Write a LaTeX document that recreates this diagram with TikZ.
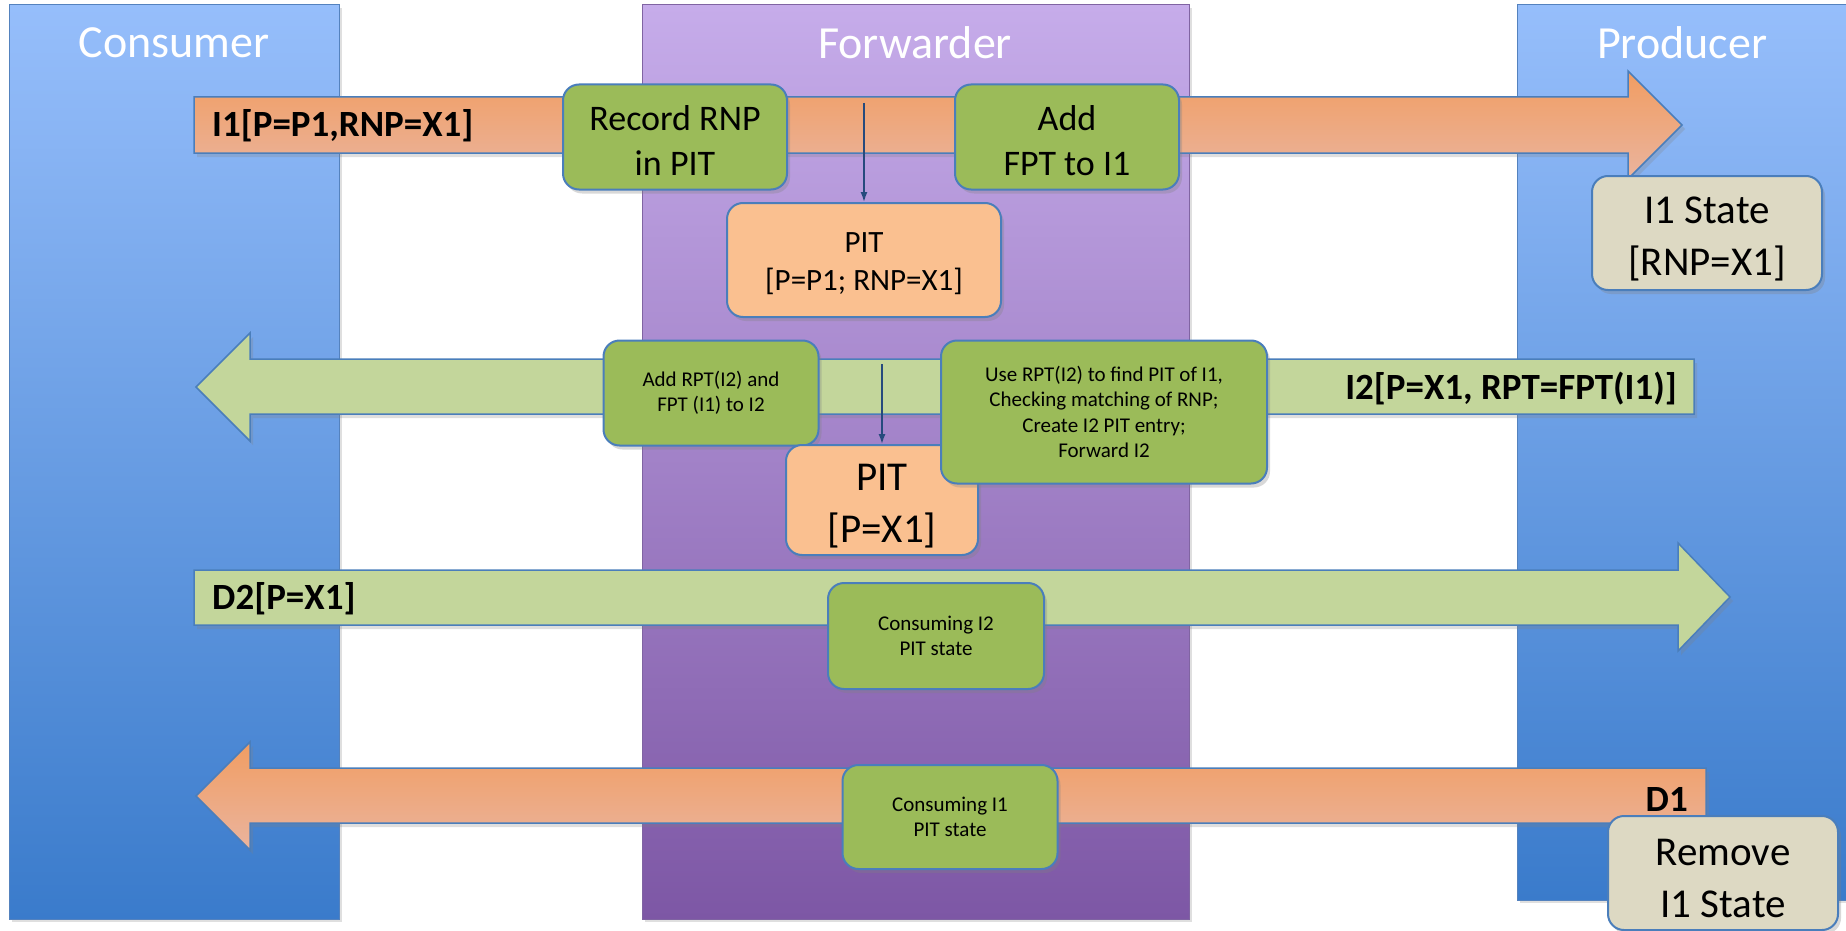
\documentclass[tikz,border=0pt]{standalone}
\usepackage{fontspec}
\setmainfont{Carlito}
\usetikzlibrary{shadows,arrows.meta}
\definecolor{laneblueA}{RGB}{150,190,251}
\definecolor{laneblueB}{RGB}{58,123,203}
\definecolor{lanepurpA}{RGB}{198,172,234}
\definecolor{lanepurpB}{RGB}{125,87,165}
\definecolor{lanebluedraw}{RGB}{84,130,190}
\definecolor{lanepurpdraw}{RGB}{128,100,162}
\definecolor{msgorangeA}{RGB}{241,157,98}
\definecolor{msgorangeB}{RGB}{234,180,158}
\definecolor{msggreen}{RGB}{195,214,155}
\definecolor{boxgreen}{RGB}{155,187,89}
\definecolor{boxorange}{RGB}{250,192,144}
\definecolor{boxbeige}{RGB}{221,217,195}
\definecolor{boxline}{RGB}{74,126,187}
\definecolor{ptrblue}{RGB}{38,74,125}
\begin{document}
\begin{tikzpicture}[x=1pt, y=-1pt,
                    lane/.style={line width=1pt,
                        drop shadow={shadow xshift=3pt, shadow yshift=-3pt, opacity=0.25}},
                    msg/.style={draw=boxline, line width=1.5pt,
                        drop shadow={shadow xshift=3pt, shadow yshift=-4pt, opacity=0.25}},
                    box/.style={draw=boxline, line width=2pt,
                        rounded corners=16pt, align=center, inner sep=0pt,
                        drop shadow={shadow xshift=3pt, shadow yshift=-4pt, opacity=0.3}},
                    greenbox/.style={box, fill=boxgreen},
                    pitbox/.style={box, fill=boxorange},
                    statebox/.style={box, fill=boxbeige},
                    lanetitle/.style={text=white, font=\fontsize{46}{55}\selectfont},
                    msglabel/.style={inner sep=0pt, font=\bfseries\fontsize{37}{44}\selectfont},
                    big/.style={font=\fontsize{36}{45}\selectfont, execute at begin node={\rule{0pt}{77pt}}},
                    mid/.style={font=\fontsize{31}{38}\selectfont, execute at begin node={\rule{0pt}{65pt}}},
                    huge/.style={font=\fontsize{41}{52}\selectfont, execute at begin node={\rule{0pt}{90pt}}},
                    small/.style={font=\fontsize{21}{25.5}\selectfont},
                    ptr/.style={draw=ptrblue, line width=1.5pt, -{Latex[length=10pt,width=7pt]}}]
                        \useasboundingbox (0,0) rectangle (1846,931);
                        \fill [white] (0,0) rectangle (1846,931);
                        \draw [lane, draw=lanebluedraw, top color=laneblueA, bottom color=laneblueB] (9,5) rectangle (339,919);
                        \draw [lane, draw=lanepurpdraw, top color=lanepurpA, bottom color=lanepurpB] (642,5) rectangle (1189,919);
                        \draw [lane, draw=lanebluedraw, top color=laneblueA, bottom color=laneblueB] (1517,5) rectangle (1846,900);
                        \node [lanetitle] (consumer) at (174,43) {Consumer};
                        \node [lanetitle] (forwarder) at (915,43) {Forwarder};
                        \node [lanetitle] (producer) at (1682,43) {Producer};
                        \draw [msg, top color=msgorangeA, bottom color=msgorangeB] (194,97) -- (1628,97) -- (1628,71) -- (1682,125) -- (1628,179) -- (1628,153) -- (194,153) -- cycle;
                        \draw [msg, fill=msggreen] (1694,359) -- (250,359) -- (250,333) -- (196,387) -- (250,441) -- (250,414) -- (1694,414) -- cycle;
                        \draw [msg, fill=msggreen] (194,570) -- (1678,570) -- (1678,543) -- (1730,597) -- (1678,651) -- (1678,625) -- (194,625) -- cycle;
                        \draw [msg, top color=msgorangeA, bottom color=msgorangeB] (1706,768) -- (250,768) -- (250,742) -- (196,796) -- (250,850) -- (250,823) -- (1706,823) -- cycle;
                        \node [msglabel, anchor=west] (i1) at (212,126) {I1[P=P1,RNP=X1]};
                        \node [msglabel, anchor=east] (i2) at (1677,389) {I2[P=X1, RPT=FPT(I1)]};
                        \node [msglabel, anchor=west] (d2) at (212,599) {D2[P=X1]};
                        \node [msglabel, anchor=east] (d1) at (1688,799) {D1};
                        \node [greenbox, big, minimum width=224pt, minimum height=105pt] (record) at (675,137) {Record RNP\\in PIT};
                        \node [greenbox, big, minimum width=224pt, minimum height=105pt] (addfpt) at (1067,137) {Add\\FPT to I1};
                        \node [pitbox, mid, minimum width=274pt, minimum height=114pt] (pit1) at (864,260) {PIT\\{}[P=P1; RNP=X1]};
                        \node [statebox, huge, minimum width=230pt, minimum height=114pt] (state) at (1707,233) {I1 State\\{}[RNP=X1]};
                        \node [greenbox, small, minimum width=215pt, minimum height=105pt] (addrpt) at (711,393) {Add RPT(I2) and\\FPT (I1) to I2};
                        \node [pitbox, huge, minimum width=192pt, minimum height=110pt] (pit2) at (882,500) {PIT\\{}[P=X1]};
                        \node [greenbox, small, minimum width=326pt, minimum height=143pt] (userpt) at (1104,412) {Use RPT(I2) to find PIT of I1,\\Checking matching of RNP;\\Create I2 PIT entry;\\Forward I2};
                        \node [greenbox, small, minimum width=216pt, minimum height=106pt] (consumeitwo) at (936,636) {Consuming I2\\PIT state};
                        \node [greenbox, small, minimum width=215pt, minimum height=104pt] (consumeione) at (950,817) {Consuming I1\\PIT state};
                        \node [statebox, huge, minimum width=230pt, minimum height=114pt] (remove) at (1723,873) {Remove\\I1 State};
                        \coordinate (recstart) at (864,103);
                        \coordinate (pitstart) at (882,364);
                        \draw [ptr] (recstart) -- (pit1);
                        \draw [ptr] (pitstart) -- (pit2);
                \end{tikzpicture}
\end{document}
